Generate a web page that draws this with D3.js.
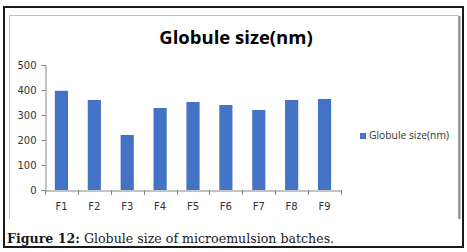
<!DOCTYPE html>
<html>
<head>
<meta charset="utf-8">
<script src="https://cdn.jsdelivr.net/npm/d3@7"></script>
<style>
  body { margin: 0; background: #fff; }
</style>
</head>
<body>
<div id="chart"></div>
<script>
// data
const batches = ["F1", "F2", "F3", "F4", "F5", "F6", "F7", "F8", "F9"];
const globuleSize = [397, 360, 220, 328, 352, 340, 320, 360, 364];
const yTicks = [0, 100, 200, 300, 400, 500];
const seriesName = "Globule size(nm)";
const chartTitle = "Globule size(nm)";

//size
const width = 467;
const height = 252;
const plot = { left: 45, right: 341, top: 65, bottom: 190 };

const svg = d3.select("#chart")
  .append("svg")
  .attr("width", width)
  .attr("height", height);

// outer figure border
svg.append("rect")
  .attr("x", 4).attr("y", 7)
  .attr("width", 459).attr("height", 240)
  .attr("fill", "none")
  .attr("stroke", "#1a1a1a")
  .attr("stroke-width", 2);

// chart area frame (no bottom line)
svg.append("path")
  .attr("d", "M9.5,219 V15.5 H458.5 V219")
  .attr("fill", "none")
  .attr("stroke", "#c0c0c0")
  .attr("stroke-width", 1);
svg.append("line")
  .attr("x1", 459.5).attr("x2", 459.5)
  .attr("y1", 16).attr("y2", 219)
  .attr("stroke", "#8c8c8c")
  .attr("stroke-width", 2);

//scales
const xScale = d3.scaleBand()
  .domain(batches)
  .range([plot.left, plot.right])
  .paddingInner(0.6)
  .paddingOuter(0.3);

const xBand = d3.scaleBand()
  .domain(batches)
  .range([plot.left, plot.right]);

const yScale = d3.scaleLinear()
  .domain([0, 500])
  .range([plot.bottom, plot.top]);

// title
svg.append("text")
  .attr("x", 236)
  .attr("y", 44)
  .attr("text-anchor", "middle")
  .attr("font-family", "'Open Sans', sans-serif")
  .attr("font-weight", "bold")
  .attr("font-size", 18.5)
  .attr("fill", "#000")
  .text(chartTitle);

// y axis
svg.append("g")
  .attr("transform", `translate(${plot.left + 0.5},0)`)
  .call(d3.axisLeft(yScale).tickValues(yTicks).tickSize(4).tickSizeOuter(4))
  .call((g) => {
    g.select(".domain").attr("stroke", "#868686");
    g.selectAll("line").attr("stroke", "#868686");
    g.selectAll("text")
      .attr("font-family", "'DejaVu Sans', sans-serif")
      .attr("font-size", 10)
      .attr("fill", "#333")
      .attr("x", -9);
  });

// bars
svg.append("g")
  .selectAll("rect")
  .data(globuleSize)
  .join("rect")
  .attr("x", (d, i) => xScale(batches[i]))
  .attr("y", (d) => yScale(d))
  .attr("width", xScale.bandwidth())
  .attr("height", (d) => yScale(0) - yScale(d))
  .attr("fill", "#4472c4");

// x axis
svg.append("g")
  .attr("transform", `translate(0,${plot.bottom + 0.5})`)
  .call(d3.axisBottom(xBand).tickSize(0).tickSizeOuter(0))
  .call((g) => {
    g.select(".domain").attr("stroke", "#868686");
    g.selectAll("text")
      .attr("font-family", "'DejaVu Sans', sans-serif")
      .attr("font-size", 10)
      .attr("fill", "#333")
      .attr("y", 12);
  });

// x tick marks at category boundaries
svg.append("g")
  .selectAll("line")
  .data(d3.range(batches.length + 1))
  .join("line")
  .attr("x1", (i) => Math.round(plot.left + i * xBand.step()) + 0.5)
  .attr("x2", (i) => Math.round(plot.left + i * xBand.step()) + 0.5)
  .attr("y1", plot.bottom)
  .attr("y2", plot.bottom + 5)
  .attr("stroke", "#868686");

// legend
const legend = svg.append("g").attr("transform", "translate(360,133)");
legend.append("rect")
  .attr("width", 6).attr("height", 6)
  .attr("fill", "#4472c4");
legend.append("text")
  .attr("x", 9)
  .attr("y", 3)
  .attr("dominant-baseline", "middle")
  .attr("font-family", "'Open Sans', sans-serif")
  .attr("font-size", 10.3)
  .attr("fill", "#333")
  .text(seriesName);

// caption
const caption = svg.append("text")
  .attr("x", 7)
  .attr("y", 243)
  .attr("font-family", "'DejaVu Serif', serif")
  .attr("font-size", 12.6)
  .attr("fill", "#1a1a1a");
caption.append("tspan").attr("font-weight", "bold").text("Figure 12:");
caption.append("tspan").text(" Globule size of microemulsion batches.");
</script>
</body>
</html>
